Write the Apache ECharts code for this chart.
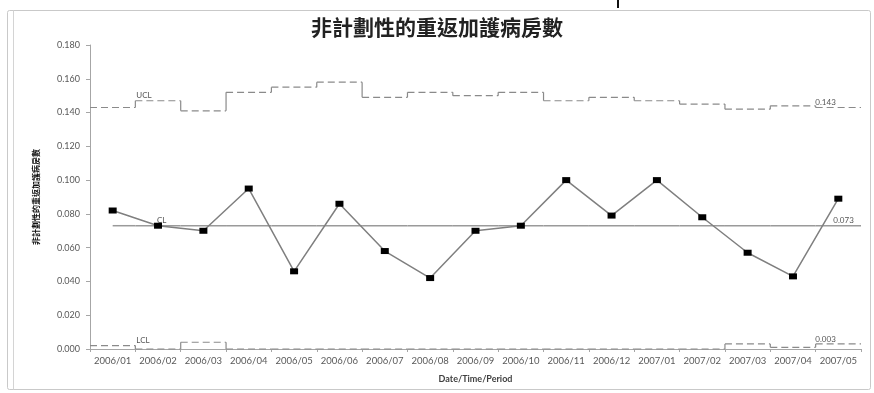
<!DOCTYPE html>
<html>
<head>
<meta charset="utf-8">
<script src="https://cdn.jsdelivr.net/npm/echarts@6/dist/echarts.min.js"></script>
<style>
  html, body { margin: 0; padding: 0; background: #fff; }
  #chart { width: 874px; height: 393px; }
</style>
</head>
<body>
<div id="chart"></div>
<script>
// Monthly periods
const categories = ['2006/01','2006/02','2006/03','2006/04','2006/05','2006/06','2006/07','2006/08','2006/09',
  '2006/10','2006/11','2006/12','2007/01','2007/02','2007/03','2007/04','2007/05'];

// Observed rate per month
const rates = [0.082, 0.073, 0.070, 0.095, 0.046, 0.086, 0.058, 0.042, 0.070,
  0.073, 0.100, 0.079, 0.100, 0.078, 0.057, 0.043, 0.089];

// Upper / lower control limits per month
const ucl = [0.143, 0.147, 0.141, 0.152, 0.155, 0.158, 0.149, 0.152, 0.150,
  0.152, 0.147, 0.149, 0.147, 0.145, 0.142, 0.144, 0.143];
const lcl = [0.002, 0.000, 0.004, 0.000, 0.000, 0.000, 0.000, 0.000, 0.000,
  0.000, 0.000, 0.000, 0.000, 0.000, 0.003, 0.001, 0.003];

// Centre line
const centerLine = 0.073;

// Axis ticks
const yTicks = [0, 0.02, 0.04, 0.06, 0.08, 0.10, 0.12, 0.14, 0.16, 0.18];

const TITLE = '非計劃性的重返加護病房數';
const LIMIT_COLOR = '#8a8a8a';
const LABEL_FONT = 'Lato, "Open Sans", sans-serif';

// Step-shaped control limit: each month gets a dashed segment spanning its band,
// joined to the previous month's level at the band boundary.
function stepLimit(values, name) {
  return {
    type: 'custom',
    name: name,
    z: 2,
    silent: true,
    data: values.map((v, i) => [i, v]),
    renderItem: function (params, api) {
      const i = params.dataIndex;
      const p = api.coord([i, values[i]]);
      const bw = api.size([1, 0])[0];
      const x0 = p[0] - bw / 2, x1 = p[0] + bw / 2;
      const style = { stroke: LIMIT_COLOR, lineWidth: 1.2, lineDash: [7, 4], fill: null };
      const children = [{
        type: 'line',
        shape: { x1: x0, y1: p[1], x2: x1, y2: p[1] },
        style: style
      }];
      if (i > 0) {
        const q = api.coord([i, values[i - 1]]);
        children.push({
          type: 'line',
          shape: { x1: x0, y1: q[1], x2: x0, y2: p[1] },
          style: { stroke: LIMIT_COLOR, lineWidth: 1.2, fill: null }
        });
      }
      if (i === 1) {
        children.push({
          type: 'text',
          style: { text: name, x: x0 + 1, y: Math.min(p[1], api.coord([0, values[0]])[1]) - 1,
            fill: '#555', font: '8px ' + LABEL_FONT, textVerticalAlign: 'bottom', textAlign: 'left' }
        });
      }
      if (i === values.length - 1) {
        children.push({
          type: 'text',
          style: { text: values[i].toFixed(3), x: p[0] - 23, y: p[1] - 1,
            fill: '#555', font: '8px ' + LABEL_FONT, textVerticalAlign: 'bottom', textAlign: 'left' }
        });
      }
      return { type: 'group', children: children };
    }
  };
}

const chart = echarts.init(document.getElementById('chart'), null, { renderer: 'canvas' });

chart.setOption({
  animation: false,
  backgroundColor: '#fff',
  title: {
    text: TITLE,
    left: 'center',
    top: 12,
    textStyle: { fontFamily: '"Noto Sans CJK TC", sans-serif', fontSize: 21, fontWeight: 'bold', color: '#222' }
  },
  graphic: [
    { type: 'rect', shape: { x: 7.5, y: 10.5, width: 863, height: 379, r: 2 },
      style: { fill: null, stroke: '#c9c9c9', lineWidth: 1 }, silent: true },
    { type: 'line', shape: { x1: 13.5, y1: 10.5, x2: 13.5, y2: 389.5 },
      style: { stroke: '#d4d4d4', lineWidth: 1 }, silent: true },
    { type: 'rect', shape: { x: 617, y: 0, width: 2, height: 8 },
      style: { fill: '#111' }, silent: true }
  ],
  grid: { left: 90, right: 13, top: 45, bottom: 44 },
  xAxis: {
    type: 'category',
    data: categories,
    boundaryGap: true,
    name: 'Date/Time/Period',
    nameLocation: 'middle',
    nameGap: 26,
    nameTextStyle: { fontFamily: LABEL_FONT, fontSize: 9, fontWeight: 'bold', color: '#404040' },
    axisLine: { lineStyle: { color: '#a6a6a6', width: 1 } },
    axisTick: { show: true, length: 3, lineStyle: { color: '#a6a6a6' } },
    axisLabel: { interval: 0, fontFamily: LABEL_FONT, fontSize: 9.5, color: '#595959', margin: 7 }
  },
  yAxis: {
    type: 'value',
    min: yTicks[0],
    max: yTicks[yTicks.length - 1],
    interval: yTicks[1] - yTicks[0],
    name: TITLE,
    nameLocation: 'middle',
    nameRotate: 90,
    nameGap: 50,
    nameTextStyle: { fontFamily: '"Noto Sans CJK TC", sans-serif', fontSize: 8, fontWeight: 'bold', color: '#111' },
    axisLine: { show: true, lineStyle: { color: '#a6a6a6', width: 1 } },
    axisTick: { show: true, length: 4, lineStyle: { color: '#a6a6a6' } },
    splitLine: { show: false },
    axisLabel: { fontFamily: LABEL_FONT, fontSize: 9, color: '#595959', margin: 10,
      formatter: v => v.toFixed(3) }
  },
  series: [
    stepLimit(ucl, 'UCL'),
    stepLimit(lcl, 'LCL'),
    {
      // Centre line from the first month to the right edge of the plot
      type: 'custom',
      name: 'CL',
      z: 3,
      silent: true,
      data: categories.map((c, i) => [i, centerLine]),
      renderItem: function (params, api) {
        const i = params.dataIndex;
        const p = api.coord([i, centerLine]);
        const bw = api.size([1, 0])[0];
        const children = [{
          type: 'line',
          shape: { x1: i === 0 ? p[0] : p[0] - bw / 2, y1: p[1], x2: p[0] + bw / 2, y2: p[1] },
          style: { stroke: '#9a9a9a', lineWidth: 1.5, fill: null }
        }];
        if (i === 1) {
          children.push({ type: 'text', style: { text: 'CL', x: p[0] - 1, y: p[1] - 1,
            fill: '#555', font: '8px ' + LABEL_FONT, textVerticalAlign: 'bottom' } });
        }
        if (i === categories.length - 1) {
          children.push({ type: 'text', style: { text: centerLine.toFixed(3), x: p[0] - 5, y: p[1] - 1,
            fill: '#555', font: '8px ' + LABEL_FONT, textVerticalAlign: 'bottom' } });
        }
        return { type: 'group', children: children };
      }
    },
    {
      type: 'line',
      name: TITLE,
      z: 5,
      data: rates,
      symbol: 'rect',
      symbolSize: [8, 6],
      showAllSymbol: true,
      itemStyle: { color: '#000' },
      lineStyle: { color: '#7f7f7f', width: 1.5 }
    }
  ]
});
</script>
</body>
</html>
